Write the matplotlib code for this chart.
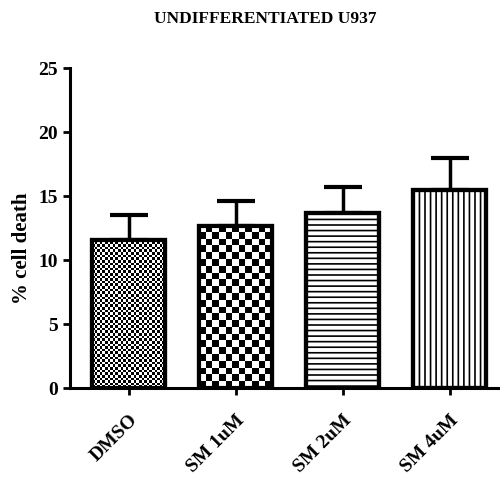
import numpy as np
import matplotlib.pyplot as plt

plt.rcParams['font.family'] = ['Liberation Serif', 'DejaVu Serif']
plt.rcParams['font.weight'] = 'bold'
plt.rcParams['hatch.linewidth'] = 1.2

groups = ['DMSO', 'SM 1uM', 'SM 2uM', 'SM 4uM']
means = [11.6, 12.7, 13.7, 15.5]
errs = [1.95, 1.95, 2.05, 2.45]

fig = plt.figure(figsize=(5, 4.87), dpi=100)
ax = fig.add_axes([0.14, 0.203, 0.86, 0.657])

x = np.arange(len(groups))
w = 0.68
ax.set_xlim(-0.55, 3.47)
ax.set_ylim(0, 25)

# upper error bars only
ax.errorbar(x, means, yerr=[np.zeros(len(errs)), errs], fmt='none',
            ecolor='black', elinewidth=2.5, capsize=13.5, capthick=3, zorder=1)

hatches = [None, None, '---', '|||']
bars = ax.bar(x, means, w, color='white', edgecolor='black', linewidth=3,
              zorder=2)
for b, h in zip(bars, hatches):
    if h:
        b.set_hatch(h)

# checkerboard fills for first two bars
fig.canvas.draw()
for b, cell in [(bars[0], 2.6), (bars[1], 6.8)]:
    x0, y0 = b.get_x(), 0
    x1, y1 = x0 + b.get_width(), b.get_height()
    p0 = ax.transData.transform((x0, y0))
    p1 = ax.transData.transform((x1, y1))
    nx = max(1, int(round((p1[0] - p0[0]) / cell)))
    ny = max(1, int(round((p1[1] - p0[1]) / cell)))
    yy, xx = np.indices((ny, nx))
    board = ((xx + yy) % 2).astype(float)
    im = ax.imshow(board, cmap='gray', vmin=0, vmax=1, interpolation='nearest',
                   extent=(x0, x1, y0, y1), origin='lower', aspect='auto',
                   zorder=2.5)
    im.set_clip_path(b)
# redraw outlines on top
ax.bar(x, means, w, fill=False, edgecolor='black', linewidth=3, zorder=3)
ax.set_aspect('auto')
ax.set_xlim(-0.55, 3.47)
ax.set_ylim(0, 25)

for s in ['top', 'right']:
    ax.spines[s].set_visible(False)
for s in ['left', 'bottom']:
    ax.spines[s].set_linewidth(2.2)

ax.set_yticks([0, 5, 10, 15, 20, 25])
ax.set_xticks(x)
ax.set_xticklabels(groups, rotation=45, ha='right', rotation_mode='anchor')
ax.tick_params(axis='both', direction='out', length=5, width=2, labelsize=14)
ax.tick_params(axis='x', pad=12)
ax.set_ylabel('% cell death', fontsize=15, fontweight='bold')
ax.yaxis.set_label_coords(-0.088, 0.4375)
fig.text(0.53, 0.961, 'UNDIFFERENTIATED U937', ha='center', va='center',
         fontsize=12.5, fontweight='bold')

fig.savefig('out.png', dpi=100)
